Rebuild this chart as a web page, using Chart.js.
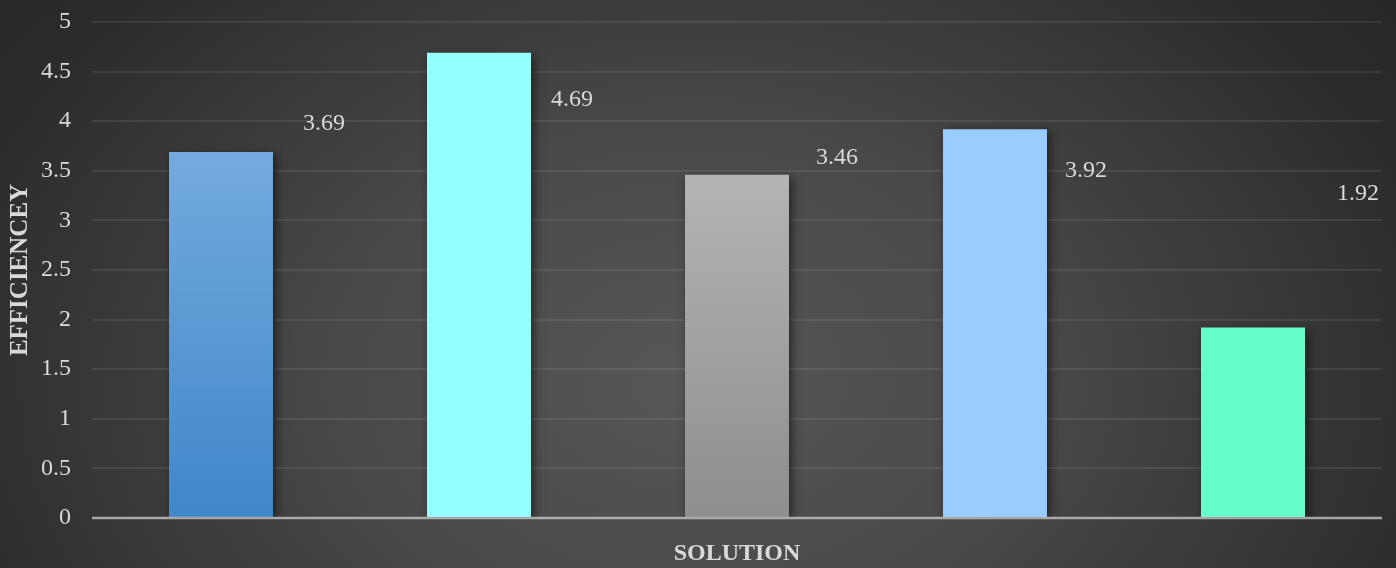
<!DOCTYPE html>
<html>
<head>
<meta charset="utf-8">
<script src="https://cdn.jsdelivr.net/npm/chart.js@4/dist/chart.umd.min.js"></script>
<style>
  html, body { margin: 0; padding: 0; }
  body { width: 1396px; height: 568px; overflow: hidden;
    background: radial-gradient(ellipse 900px 640px at 690px 380px, #575757 0%, #484848 40%, #2c2c2c 85%, #262626 100%); }
  #wrap { position: relative; width: 1396px; height: 568px; }
</style>
</head>
<body>
<div id="wrap"><canvas id="c" width="1396" height="568"></canvas></div>
<script>
const categories = ["", "", "", "", ""];
const efficiency = [3.69, 4.69, 3.46, 3.92, 1.92];
const yTicks = [0, 0.5, 1, 1.5, 2, 2.5, 3, 3.5, 4, 4.5, 5];
// label placement offsets (pixels from bar top-center), as placed manually in the source chart
const labelDx = [103, 93, 100, 91, 105];
const labelDy = [-28, 47, -17, 42, -134];

const topColors = ["#74aadf", "#96ffff", "#b4b4b4", "#99ccff", "#66ffcc"];
const botColors = ["#3f87c9", "#96ffff", "#8e8e8e", "#99ccff", "#66ffcc"];

const SERIF = "'Liberation Serif', 'Times New Roman', serif";

const shadowPlugin = {
  id: 'barShadow',
  beforeDatasetDraw(chart) {
    const ctx = chart.ctx;
    ctx.save();
    ctx.shadowColor = 'rgba(0,0,0,0.55)';
    ctx.shadowBlur = 9;
    ctx.shadowOffsetX = 3;
    ctx.shadowOffsetY = 3;
  },
  afterDatasetDraw(chart) {
    chart.ctx.restore();
  }
};

const overlayPlugin = {
  id: 'overlay',
  afterDatasetsDraw(chart) {
    const ctx = chart.ctx;
    const area = chart.chartArea;
    const y0 = chart.scales.y.getPixelForValue(0);
    ctx.save();
    ctx.strokeStyle = 'rgba(200,200,200,0.75)';
    ctx.lineWidth = 2.5;
    ctx.beginPath();
    ctx.moveTo(area.left, y0);
    ctx.lineTo(area.right, y0);
    ctx.stroke();
    // data labels
    const meta = chart.getDatasetMeta(0);
    ctx.fillStyle = '#d9d9d9';
    ctx.font = '24px ' + SERIF;
    ctx.textAlign = 'center';
    ctx.textBaseline = 'middle';
    meta.data.forEach((bar, i) => {
      ctx.fillText(efficiency[i].toFixed(2), bar.x + labelDx[i], bar.y + labelDy[i]);
    });
    ctx.restore();
  }
};

new Chart(document.getElementById('c'), {
  type: 'bar',
  data: {
    labels: categories,
    datasets: [{
      data: efficiency,
      backgroundColor(ctx) {
        const chart = ctx.chart;
        const area = chart.chartArea;
        if (!area) return topColors[ctx.dataIndex];
        const i = ctx.dataIndex;
        const yTop = chart.scales.y.getPixelForValue(efficiency[i]);
        const g = chart.ctx.createLinearGradient(0, yTop, 0, chart.scales.y.getPixelForValue(0));
        g.addColorStop(0, topColors[i]);
        g.addColorStop(1, botColors[i]);
        return g;
      },
      borderWidth: 0,
      barPercentage: 0.403,
      categoryPercentage: 1.0
    }]
  },
  options: {
    responsive: false,
    animation: false,
    layout: { padding: { top: 22, right: 14, left: 0, bottom: 0 } },
    plugins: { legend: { display: false }, tooltip: { enabled: false } },
    scales: {
      x: {
        grid: { display: false },
        border: { display: false },
        ticks: { display: false },
        title: { display: true, text: 'SOLUTION', color: '#d9d9d9',
          font: { family: SERIF, size: 24, weight: 'bold' }, padding: { top: 0, bottom: 0 } },
        afterFit(scale) { scale.height = 50; scale.paddingLeft = 0; scale.paddingRight = 0; }
      },
      y: {
        min: 0, max: 5,
        afterBuildTicks(scale) { scale.ticks = yTicks.map(v => ({ value: v })); },
        grid: { color: 'rgba(255,255,255,0.08)', lineWidth: 2, drawTicks: false },
        border: { display: false },
        ticks: { color: '#d9d9d9', padding: 21, font: { family: SERIF, size: 24 },
          callback: v => String(v) },
        title: { display: true, text: 'EFFICIENCEY', color: '#d9d9d9',
          font: { family: SERIF, size: 25, weight: 'bold' }, padding: { top: 6, bottom: 0 } },
        afterFit(scale) { scale.width = 92; scale.paddingTop = 0; scale.paddingBottom = 0; }
      }
    }
  },
  plugins: [shadowPlugin, overlayPlugin]
});
</script>
</body>
</html>
